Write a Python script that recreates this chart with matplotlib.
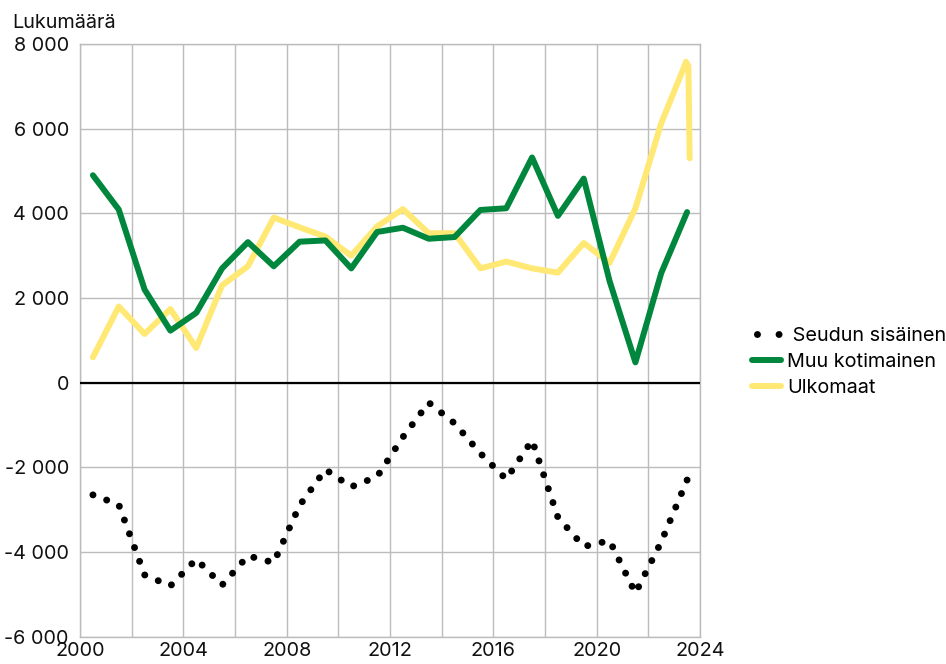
import matplotlib.pyplot as plt, numpy as np
from matplotlib.lines import Line2D
from matplotlib.ticker import FuncFormatter, MultipleLocator

plt.rcParams['font.family'] = ['Inter', 'DejaVu Sans']

# vuosiarvot (vuoden puoliväli)
years = np.arange(2000.5, 2024.0, 1.0)
seudun = [-2650, -2880, -4540, -4800, -4170, -4780, -4090, -4250, -2900, -2050,
          -2460, -2220, -1285, -470, -960, -1670, -2280, -1360, -3180, -3870,
          -3730, -4970, -3760, -2300]
muu = [4900, 4090, 2200, 1230, 1650, 2700, 3320, 2750, 3330, 3360,
       2700, 3560, 3660, 3400, 3440, 4080, 4120, 5320, 3940, 4820,
       2400, 480, 2590, 4030]
# ulkomaat: viimeinen vuosi piirtyy koukkuna
ulko_years = list(np.arange(2000.5, 2023.0, 1.0)) + [2023.38, 2023.46, 2023.55, 2023.6]
ulko = [600, 1800, 1150, 1740, 820, 2300, 2750, 3900, 3670, 3450,
        3000, 3690, 4100, 3530, 3530, 2700, 2860, 2700, 2600, 3300,
        2830, 4120, 6130, 7450, 7580, 7480, 5300]

labels = [' Seudun sisäinen', 'Muu kotimainen', 'Ulkomaat']
green = '#00873d'
yellow = '#ffe873'
grid_c = '#bcbcbc'
fs = 14.3
dot_lw = 5.0

fig = plt.figure(figsize=(9.46, 6.64), dpi=100)
ax = fig.add_axes([80/946, 1 - 636.7/664, 620/946, (636.7 - 44)/664])
ax.set_xlim(2000, 2024)
ax.set_ylim(-6000, 8000)

# pisteväli niin, että viimeinenkin piste osuu viivan päähän
pts = ax.transData.transform(np.column_stack([years, seudun]))
path_len = np.hypot(*np.diff(pts, axis=0).T).sum()
lw_px = dot_lw * fig.dpi / 72
n = round(path_len / 14.6)
gap = path_len / n / lw_px - 0.01

ax.plot(years, seudun, color='black', lw=dot_lw, linestyle=(0, (0.01, gap)),
        dash_capstyle='round', zorder=3)
ax.plot(ulko_years, ulko, color=yellow, lw=4.3, solid_joinstyle='round',
        solid_capstyle='round', zorder=3)
ax.plot(years, muu, color=green, lw=4.3, solid_joinstyle='round',
        solid_capstyle='round', zorder=4)
ax.axhline(0, color='black', lw=1.6, zorder=5)

ax.xaxis.set_major_locator(MultipleLocator(4))
ax.xaxis.set_minor_locator(MultipleLocator(2))
ax.yaxis.set_major_locator(MultipleLocator(2000))
ax.yaxis.set_major_formatter(FuncFormatter(lambda v, p: f"{int(v):,}".replace(',', ' ')))
ax.grid(True, which='both', axis='x', color=grid_c, lw=1.0, zorder=1)
ax.grid(True, which='major', axis='y', color=grid_c, lw=1.0, zorder=1)
ax.tick_params(which='both', length=0, labelsize=fs, colors='#111111')
ax.tick_params(axis='y', pad=8)
ax.tick_params(axis='x', pad=4)
for s in ax.spines.values():
    s.set_color(grid_c)
    s.set_linewidth(1.0)

fig.text(12/946, 1 - 28/664, 'Lukumäärä', fontsize=fs, color='#111111')

handles = [Line2D([0], [0], color='black', lw=dot_lw, linestyle=(2.4, (0.01, 3.1)),
                  dash_capstyle='round'),
           Line2D([0], [0], color=green, lw=4.3, solid_capstyle='round'),
           Line2D([0], [0], color=yellow, lw=4.3, solid_capstyle='round')]
fig.legend(handles, labels, loc='center left', bbox_to_anchor=(752/946, 1 - 362/664),
           frameon=False, fontsize=fs, handlelength=1.45, handletextpad=0.3,
           labelspacing=0.42, borderpad=0, borderaxespad=0)

fig.savefig('out.png', dpi=100)
